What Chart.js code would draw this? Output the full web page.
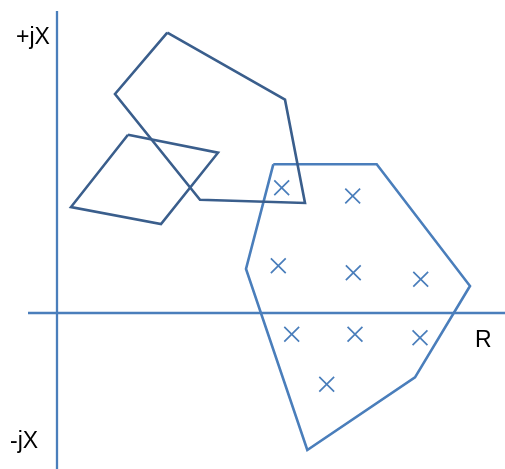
<!DOCTYPE html>
<html>
<head>
<meta charset="utf-8">
<script src="https://cdn.jsdelivr.net/npm/chart.js@4"></script>
<style>
html,body{margin:0;padding:0;background:#fff;}
canvas{display:block;}
</style>
</head>
<body>
<canvas id="c" width="505" height="469"></canvas>
<script>
// Impedance-plane diagram: R (resistance) horizontal, X (reactance) vertical
const polygonA = [[11.03,28.03],[22.8,21.33],[24.8,11.0],[14.3,11.33],[5.8,21.9],[11.03,28.03]];
const polygonB = [[7.1,17.83],[16.1,16.03],[10.4,8.9],[1.4,10.6],[7.1,17.83]];
const polygonC = [[21.63,14.87],[31.97,14.87],[41.3,2.7],[35.8,-6.43],[25.03,-13.7],[18.9,4.4],[21.63,14.87]];
const markersR = [22.47,29.57,22.13,29.63,36.37,23.47,29.8,36.3,26.97];
const markersX = [12.53,11.7,4.73,4.03,3.37,-2.13,-2.13,-2.47,-7.13];
const axisR = [[-2.9,0],[44.8,0]];
const axisX = [[0,30.2],[0,-15.6]];
const axisLabels = ['+jX','-jX','R'];
const labelPosR = [-4.1,-4.7,41.8];
const labelPosX = [26.95,-13.5,-3.4];

const toPts = arr => arr.map(p => ({x:p[0], y:p[1]}));
const dark = '#3A5E8C';
const light = '#4A7EBB';

const labelPlugin = {
  id:'axisLabels',
  afterDraw(chart){
    const ctx = chart.ctx, xs = chart.scales.x, ys = chart.scales.y;
    ctx.save();
    ctx.fillStyle = '#000';
    ctx.font = '23px "Liberation Sans", Arial, sans-serif';
    ctx.textBaseline = 'alphabetic';
    ctx.textAlign = 'left';
    axisLabels.forEach((t,i)=>{
      ctx.fillText(t, xs.getPixelForValue(labelPosR[i]), ys.getPixelForValue(labelPosX[i]));
    });
    ctx.restore();
  }
};

const lineDs = (data,color,w)=>({type:'scatter',data:toPts(data),showLine:true,borderColor:color,borderWidth:w,pointRadius:0,fill:false,tension:0,borderJoinStyle:'miter',clip:false});

new Chart(document.getElementById('c'),{
  type:'scatter',
  data:{datasets:[
    lineDs(axisR,light,2.3),
    lineDs(axisX,light,2.3),
    lineDs(polygonA,dark,2.6),
    lineDs(polygonB,dark,2.6),
    lineDs(polygonC,light,2.6),
    {type:'scatter',data:markersR.map((r,i)=>({x:r,y:markersX[i]})),pointStyle:'crossRot',pointRadius:10.5,borderColor:light,borderWidth:1.7,showLine:false}
  ]},
  options:{
    responsive:false,animation:false,
    layout:{padding:0,autoPadding:false},
    plugins:{legend:{display:false},tooltip:{enabled:false}},
    scales:{
      x:{type:'linear',display:false,min:-5.7,max:44.8},
      y:{type:'linear',display:false,min:-15.6,max:31.3}
    }
  },
  plugins:[labelPlugin]
});
</script>
</body>
</html>
